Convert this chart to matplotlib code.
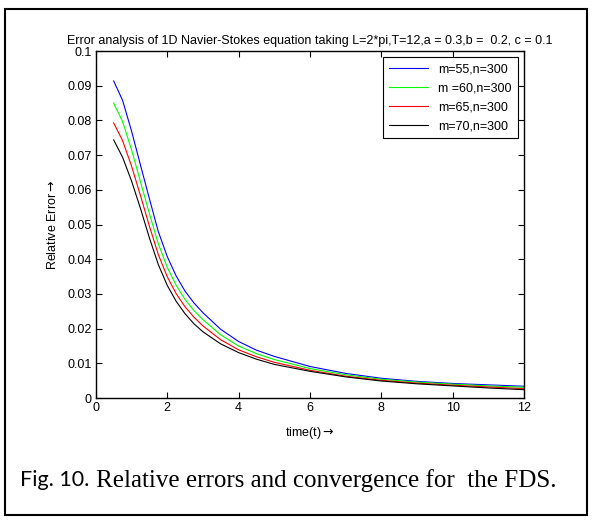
import matplotlib
matplotlib.use("Agg")
import matplotlib.pyplot as plt
from matplotlib.patches import Rectangle

plt.rcParams['font.family'] = ['Liberation Sans', 'DejaVu Sans']

t = [0.5, 0.75, 1.0, 1.25, 1.5, 1.75, 2.0, 2.25, 2.5, 2.75, 3.0, 3.5, 4.0, 4.5, 5.0,
     6.0, 7.0, 8.0, 9.0, 10.0, 11.0, 12.0]
err_m55 = [0.0914, 0.0858, 0.0770, 0.0672, 0.0575, 0.0480, 0.0408, 0.0352, 0.0308, 0.0274, 0.0246,
           0.0198, 0.0163, 0.0138, 0.0120, 0.0091, 0.0071, 0.0057, 0.0048, 0.0042, 0.0038, 0.0034]
err_m60 = [0.0850, 0.0797, 0.0716, 0.0624, 0.0532, 0.0445, 0.0377, 0.0325, 0.0284, 0.0252, 0.0226,
           0.0182, 0.0150, 0.0128, 0.0111, 0.0085, 0.0067, 0.0054, 0.0046, 0.0040, 0.0035, 0.0031]
err_m65 = [0.0793, 0.0742, 0.0669, 0.0584, 0.0496, 0.0414, 0.0350, 0.0301, 0.0263, 0.0233, 0.0208,
           0.0168, 0.0139, 0.0119, 0.0103, 0.0080, 0.0063, 0.0051, 0.0043, 0.0037, 0.0032, 0.0027]
err_m70 = [0.0744, 0.0694, 0.0626, 0.0547, 0.0462, 0.0385, 0.0325, 0.0279, 0.0243, 0.0214, 0.0191,
           0.0156, 0.0131, 0.0112, 0.0097, 0.0077, 0.0061, 0.0049, 0.0041, 0.0035, 0.0029, 0.0024]
labels = ["m=55,n=300", "m =60,n=300", "m=65,n=300", "m=70,n=300"]
colors = ["#0000ff", "#00ff00", "#ff0000", "#000000"]
xticks = [0, 2, 4, 6, 8, 10, 12]
yticks = [0, 0.01, 0.02, 0.03, 0.04, 0.05, 0.06, 0.07, 0.08, 0.09, 0.1]
ytick_labels = ["0", "0.01", "0.02", "0.03", "0.04", "0.05", "0.06", "0.07", "0.08", "0.09", "0.1"]

fig = plt.figure(figsize=(5.95, 5.21), dpi=100)
ax = fig.add_axes([0.161, 0.236, 0.720, 0.666])

for y, c, lab in zip([err_m55, err_m60, err_m65, err_m70], colors, labels):
    ax.plot(t, y, color=c, lw=0.8, label=lab)

ax.set_xlim(0, 12)
ax.set_ylim(0, 0.1)
ax.set_xticks(xticks)
ax.set_yticks(yticks)
ax.set_yticklabels(ytick_labels)
ax.tick_params(direction="in", top=True, right=True, labelsize=9, length=4, width=0.8, pad=3)
for s in ax.spines.values():
    s.set_linewidth(1.0)

ax.set_title("Error analysis of 1D Navier-Stokes equation taking L=2*pi,T=12,a = 0.3,b =  0.2, c = 0.1",
             fontsize=9, pad=5)
ax.set_xlabel(r"time(t)$\rightarrow$", fontsize=9, labelpad=8)
ax.set_ylabel(r"Relative Error$\rightarrow$", fontsize=9, labelpad=6)

leg = ax.legend(loc="upper right", fontsize=9, fancybox=False, framealpha=1,
                edgecolor="black", handlelength=3.1, borderaxespad=0.5,
                labelspacing=0.55, borderpad=0.5)
leg.get_frame().set_linewidth(0.8)

fig.patches.append(Rectangle((5 / 595, 6 / 521), 582 / 595, 506 / 521,
                             transform=fig.transFigure, fill=False,
                             edgecolor="black", lw=1.5))
fig.text(20 / 595, 0.078, "Fig. 10.", fontsize=15.5, family="Lato",
         va="center", ha="left")
fig.text(96 / 595, 0.078, "Relative errors and convergence for  the FDS.",
         fontsize=18, family="Liberation Serif", va="center", ha="left")

fig.savefig("out.png", dpi=100)
